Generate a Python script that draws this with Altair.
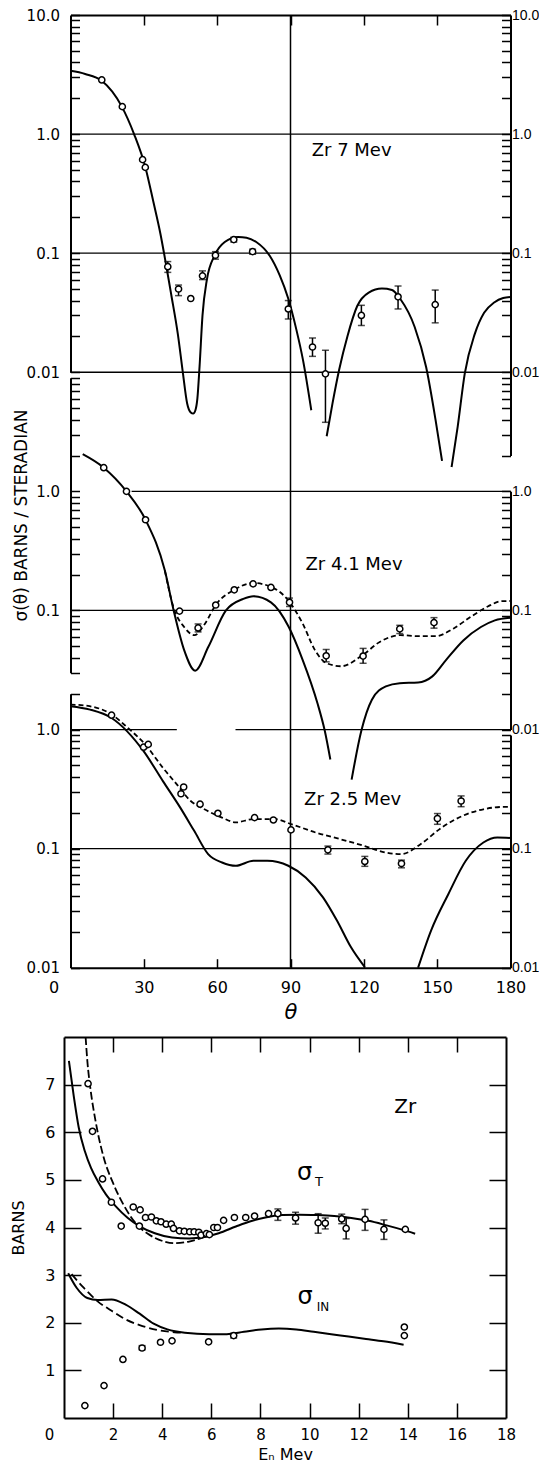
import math
import pandas as pd
import altair as alt

nan = float("nan")

# ---------------- data: Zr 7 MeV ----------------
z7_theta = [12.8, 21.2, 29.5, 30.6, 39.8, 44.2, 49.2, 54.0, 59.3, 66.8, 74.5, 89.1, 99.0, 104.3, 119.0, 134.0, 149.2]
z7_sigma = [2.85, 1.7, 0.61, 0.525, 0.077, 0.050, 0.0416, 0.0645, 0.096, 0.13, 0.103, 0.034, 0.0163, 0.0097, 0.030, 0.043, 0.037]
z7_lo = [nan, nan, nan, nan, 0.069, 0.044, nan, 0.060, 0.089, 0.124, 0.098, 0.028, 0.0136, 0.0038, 0.0247, 0.034, 0.026]
z7_hi = [nan, nan, nan, nan, 0.085, 0.054, nan, 0.071, 0.103, 0.136, 0.108, 0.040, 0.0194, 0.0153, 0.0365, 0.053, 0.049]
z7_fit_theta = [0, 6, 12.8, 21, 26, 30.6, 33.9, 36.8, 39.1, 41.2, 43.9, 46.0, 47.7, 49.2, 50.2, 51.1, 51.9, 52.8, 54.0, 55.8, 59, 63.1, 68.6, 72, 76, 81.5, 85.6, 89, 92.4, 95.1, 98.5,
                104.8, 107.2, 109.9, 113.3, 117.3, 122, 127.4, 131.5, 135, 140.8, 145.5, 149.5, 152,
                155.9, 158.4, 161.3, 165.4, 169.2, 173.3, 177, 180]
z7_fit_sigma = [3.4, 3.2, 2.8, 1.7, 1.0, 0.53, 0.27, 0.145, 0.08, 0.045, 0.021, 0.0098, 0.0055, 0.0046, 0.0045, 0.0048, 0.006, 0.0112, 0.03, 0.06, 0.096, 0.124, 0.137, 0.135, 0.124, 0.095, 0.065, 0.042, 0.0228, 0.0127, 0.0048,
                0.0029, 0.0055, 0.0105, 0.0201, 0.036, 0.0467, 0.0504, 0.049, 0.041, 0.024, 0.011, 0.0038, 0.0018,
                0.0016, 0.0035, 0.0098, 0.021, 0.0316, 0.0385, 0.042, 0.0428]
z7_fit_seg = [1] * 31 + [2] * 13 + [3] * 8

# ---------------- data: Zr 4.1 MeV ----------------
z41_theta = [13.6, 22.9, 30.7, 44.6, 52.2, 59.4, 67.0, 74.7, 82.0, 89.6, 104.6, 119.7, 134.7, 148.7]
z41_sigma = [1.58, 1.0, 0.577, 0.0987, 0.0713, 0.111, 0.149, 0.167, 0.156, 0.117, 0.0416, 0.0414, 0.070, 0.079]
z41_lo = [nan, nan, nan, nan, 0.066, nan, nan, nan, nan, 0.108, 0.037, 0.036, 0.064, 0.071]
z41_hi = [nan, nan, nan, nan, 0.077, nan, nan, nan, nan, 0.127, 0.047, 0.048, 0.075, 0.087]
z41_fit_theta = [5, 13.6, 22.9, 30.7, 38.6, 42.2, 46.5, 51, 56.4, 63.6, 70.7, 74.8, 82, 89.3, 95, 101, 104, 106.3,
                 115, 119, 123.3, 129, 134.7, 142.2, 147.9, 153.6, 160.7, 167.9, 173.6, 180]
z41_fit_sigma = [2.05, 1.58, 1.0, 0.577, 0.216, 0.1, 0.0464, 0.0312, 0.0495, 0.1, 0.125, 0.1316, 0.117, 0.0726, 0.0383, 0.0167, 0.0098, 0.0056,
                 0.0038, 0.0098, 0.0178, 0.023, 0.0245, 0.0248, 0.0278, 0.0383, 0.056, 0.0726, 0.0826, 0.087]
z41_fit_seg = [1] * 18 + [2] * 12
z41_dash_theta = [38.6, 42.2, 46.5, 50.7, 55, 59.4, 67, 74.7, 82, 89.3, 95, 100, 104.8, 110.7, 119.4, 126.5, 135, 142.2, 149.4, 156.6, 163.6, 170.7, 176.4, 180]
z41_dash_sigma = [0.216, 0.105, 0.0726, 0.062, 0.0774, 0.111, 0.149, 0.17, 0.158, 0.12, 0.0774, 0.0464, 0.036, 0.034, 0.042, 0.0544, 0.062, 0.0608, 0.0608, 0.0703, 0.088, 0.108, 0.1196, 0.12]

# ---------------- data: Zr 2.5 MeV ----------------
z25_theta = [16.8, 29.9, 31.8, 45.2, 46.3, 53.0, 60.3, 75.3, 83.0, 90.2, 105.3, 120.4, 135.4, 150.1, 159.8]
z25_sigma = [1.32, 0.711, 0.75, 0.289, 0.329, 0.236, 0.198, 0.182, 0.174, 0.1436, 0.0977, 0.078, 0.075, 0.179, 0.251]
z25_lo = [nan] * 10 + [0.09, 0.071, 0.069, 0.160, 0.225]
z25_hi = [nan] * 10 + [0.105, 0.086, 0.080, 0.197, 0.277]
z25_fit_theta = [0, 8, 16.8, 29.9, 37.8, 44.9, 50.6, 56.3, 62, 67.7, 74.8, 80.5, 89.1, 96.2, 103.3, 109, 114.7, 120.4,
                 142.2, 147.5, 154.6, 161.7, 168.9, 174.6, 180]
z25_fit_sigma = [1.57, 1.47, 1.25, 0.658, 0.369, 0.221, 0.141, 0.09, 0.0765, 0.0718, 0.079, 0.079, 0.0718, 0.0573, 0.039, 0.0249, 0.0149, 0.0101,
                 0.01, 0.0205, 0.0416, 0.079, 0.1125, 0.124, 0.123]
z25_fit_seg = [1] * 18 + [2] * 7
z25_dash_theta = [0, 7.8, 16.8, 23.5, 30.6, 37.8, 43.5, 49.2, 54.8, 62, 67.7, 74.8, 83.4, 90.5, 100.5, 110.4, 120.4, 129, 135.4, 143.2, 151.8, 160.3, 168.9, 177.4, 180]
z25_dash_sigma = [1.62, 1.57, 1.34, 1.03, 0.748, 0.477, 0.346, 0.251, 0.214, 0.182, 0.166, 0.177, 0.177, 0.16, 0.136, 0.12, 0.105, 0.0927, 0.09, 0.109, 0.15, 0.188, 0.214, 0.224, 0.224]

# reference lines of the angular panels
grid_panel = [1, 1, 1, 2, 2, 3, 3, 3]
grid_value = [1.0, 0.1, 0.01, 1.0, 0.1, 1.0, 1.0, 0.1]
grid_from = [0, 0, 0, 25, 0, 0, 67.5, 0]
grid_to = [180, 180, 180, 180, 180, 43.5, 180, 180]

panel_label = ["Zr 7 Mev", "Zr 4.1 Mev", "Zr 2.5 Mev"]
panel_label_theta = [115.0, 116.0, 115.4]
panel_label_sigma = [0.72, 0.239, 0.255]

# ---------------- data: total / inelastic cross sections ----------------
sT_E = [0.98, 1.16, 1.57, 1.93, 2.33, 2.82, 3.1, 3.07, 3.32, 3.56, 3.76, 3.95, 4.16, 4.37, 4.46, 4.7, 4.9, 5.12, 5.3, 5.49,
        5.58, 5.8, 5.92, 6.1, 6.25, 6.5, 6.94, 7.4, 7.76, 8.33, 8.71, 9.43, 10.35, 10.64, 11.31, 11.49, 12.26, 13.03, 13.9]
sT_B = [7.02, 6.02, 5.02, 4.53, 4.03, 4.43, 4.37, 4.03, 4.21, 4.22, 4.14, 4.12, 4.07, 4.07, 3.98, 3.93, 3.92, 3.91, 3.91, 3.9,
        3.84, 3.87, 3.85, 4.0, 4.0, 4.15, 4.21, 4.21, 4.24, 4.29, 4.29, 4.2, 4.1, 4.09, 4.18, 3.98, 4.17, 3.96, 3.96]
sT_err_E = [8.71, 9.43, 10.35, 10.64, 11.31, 11.49, 12.26, 13.03]
sT_err_lo = [4.15, 4.07, 3.88, 3.97, 4.08, 3.76, 3.94, 3.75]
sT_err_hi = [4.39, 4.32, 4.29, 4.20, 4.28, 4.19, 4.38, 4.16]
sT_fit_E = [0.2, 0.4, 0.6, 0.85, 1.1, 1.4, 1.7, 2.1, 2.6, 3.1, 3.7, 4.4, 5.1, 5.7, 6.3, 7.0, 7.6, 8.2, 8.9, 9.6, 10.3, 11.0, 11.7, 12.4, 13.1, 13.8, 14.3]
sT_fit_B = [7.5, 6.75, 6.1, 5.6, 5.25, 4.95, 4.7, 4.45, 4.2, 4.02, 3.88, 3.79, 3.77, 3.8, 3.88, 4.02, 4.13, 4.21, 4.26, 4.27, 4.26, 4.24, 4.2, 4.14, 4.05, 3.95, 3.87]
sT_dash_E = [0.88, 0.95, 1.08, 1.28, 1.6, 2.0, 2.42, 2.95, 3.5, 4.05, 4.5, 5.05, 5.6, 6.0]
sT_dash_B = [8.0, 7.5, 6.9, 6.25, 5.5, 4.93, 4.48, 4.07, 3.84, 3.71, 3.67, 3.7, 3.78, 3.85]

sIN_E = [0.85, 1.63, 2.4, 3.18, 3.93, 4.4, 5.89, 6.91, 13.86, 13.86]
sIN_B = [0.26, 0.68, 1.23, 1.47, 1.59, 1.62, 1.6, 1.73, 1.91, 1.73]
sIN_err_E = [3.18, 6.91]
sIN_err_lo = [1.43, 1.68]
sIN_err_hi = [1.52, 1.78]
sIN_fit_E = [0.17, 0.52, 0.95, 1.37, 1.94, 2.51, 3.08, 3.65, 4.21, 4.92, 5.91, 6.63, 7.33, 8.04, 8.75, 9.46, 10.17, 10.88, 11.59, 12.3, 13.01, 13.83]
sIN_fit_B = [3.04, 2.73, 2.52, 2.48, 2.49, 2.38, 2.19, 1.98, 1.86, 1.79, 1.76, 1.76, 1.81, 1.86, 1.88, 1.86, 1.81, 1.76, 1.71, 1.66, 1.61, 1.54]
sIN_dash_E = [0.31, 0.81, 1.37, 1.94, 2.51, 3.08, 3.79, 4.5, 4.86]
sIN_dash_B = [3.02, 2.73, 2.45, 2.25, 2.07, 1.95, 1.85, 1.8, 1.79]

bot_text = ["Zr", "σ", "T", "σ", "IN"]
bot_text_E = [13.9, 9.8, 10.38, 9.82, 10.55]
bot_text_B = [6.52, 5.15, 4.95, 2.55, 2.34]
bot_text_size = [20, 24, 13, 24, 12]

# ---------------- geometry ----------------
FONT = "DejaVu Sans"
W, H = 442, 1403
TL, TR = 6.5, 446.5          # x-extent of the angular figure inside the group
YB = 952.7                   # bottom of angular figure
D = YB / 8.0                 # pixels per decade
OFF = {1: 0.0, 2: 3.0, 3: 5.0}
BOT_TOP = 1022.0             # 8 barns

def yg(k, v):
    return D * (1.0 - math.log10(v) + OFF[k])

def sx_top():
    return alt.Scale(domain=[0, 180], range=[TL, TR], nice=False, zero=False)

def sy_top(k, lo=0.01, hi=10.0):
    return alt.Scale(type="log", domain=[lo, hi], range=[yg(k, lo), yg(k, hi)], nice=False)

def sx_bot():
    return alt.Scale(domain=[0, 18], range=[0, W], nice=False, zero=False)

def sy_bot():
    return alt.Scale(domain=[0, 8], range=[H, BOT_TOP], nice=False, zero=False)

def xT(f):
    return alt.X(f"{f}:Q", scale=sx_top(), axis=None)

def yT(f, k):
    return alt.Y(f"{f}:Q", scale=sy_top(k), axis=None)

def xB(f):
    return alt.X(f"{f}:Q", scale=sx_bot(), axis=None)

def yB(f):
    return alt.Y(f"{f}:Q", scale=sy_bot(), axis=None)

layers = []

# ---- angular panels ----
grid_df = pd.DataFrame({"panel": grid_panel, "v": grid_value, "t0": grid_from, "t1": grid_to})
for k in (1, 2, 3):
    layers.append(alt.Chart(grid_df[grid_df.panel == k]).mark_rule(color="black", strokeWidth=1.3).encode(
        x=xT("t0"), x2="t1", y=yT("v", k)))

vline = pd.DataFrame({"t": [90], "a": [10.0], "b": [1e-7]})
layers.append(alt.Chart(vline).mark_rule(color="black", strokeWidth=1.5).encode(
    x=xT("t"),
    y=alt.Y("a:Q", scale=alt.Scale(type="log", domain=[1e-7, 10], range=[yg(1, 1e-7), 0], nice=False), axis=None),
    y2="b"))

panels = [
    (1, z7_theta, z7_sigma, z7_lo, z7_hi, z7_fit_theta, z7_fit_sigma, z7_fit_seg, None, None),
    (2, z41_theta, z41_sigma, z41_lo, z41_hi, z41_fit_theta, z41_fit_sigma, z41_fit_seg, z41_dash_theta, z41_dash_sigma),
    (3, z25_theta, z25_sigma, z25_lo, z25_hi, z25_fit_theta, z25_fit_sigma, z25_fit_seg, z25_dash_theta, z25_dash_sigma),
]
for k, th, sg, lo, hi, fth, fsg, fseg, dth, dsg in panels:
    fit = pd.DataFrame({"t": fth, "v": fsg, "seg": fseg})
    layers.append(alt.Chart(fit).mark_line(color="black", strokeWidth=2, interpolate="monotone").encode(
        x=xT("t"), y=yT("v", k), detail="seg:N"))
    if dth is not None:
        dd = pd.DataFrame({"t": dth, "v": dsg})
        layers.append(alt.Chart(dd).mark_line(color="black", strokeWidth=1.8, strokeDash=[5, 3], interpolate="monotone").encode(
            x=xT("t"), y=yT("v", k)))
    pts = pd.DataFrame({"t": th, "v": sg, "lo": lo, "hi": hi})
    eb = pts.dropna()
    layers.append(alt.Chart(eb).mark_rule(color="black", strokeWidth=1.5).encode(x=xT("t"), y=yT("lo", k), y2="hi"))
    layers.append(alt.Chart(eb).mark_tick(color="black", orient="horizontal", size=7, thickness=1.5).encode(x=xT("t"), y=yT("lo", k)))
    layers.append(alt.Chart(eb).mark_tick(color="black", orient="horizontal", size=7, thickness=1.5).encode(x=xT("t"), y=yT("hi", k)))
    layers.append(alt.Chart(pts).mark_point(shape="circle", size=38, filled=True, fill="white", stroke="black",
                                            strokeWidth=1.5, opacity=1).encode(x=xT("t"), y=yT("v", k)))
    lab = pd.DataFrame({"t": [panel_label_theta[k - 1]], "v": [panel_label_sigma[k - 1]], "s": [panel_label[k - 1]]})
    layers.append(alt.Chart(lab).mark_text(font=FONT, fontSize=18, align="center", baseline="middle", color="black").encode(
        x=xT("t"), y=yT("v", k), text="s:N"))

# ---- cross-section figure ----
layers.append(alt.Chart(pd.DataFrame({"e": sT_fit_E, "b": sT_fit_B})).mark_line(color="black", strokeWidth=2, interpolate="monotone").encode(
    x=xB("e"), y=yB("b")))
layers.append(alt.Chart(pd.DataFrame({"e": sT_dash_E, "b": sT_dash_B})).mark_line(color="black", strokeWidth=1.8, strokeDash=[8, 3], interpolate="monotone").encode(
    x=xB("e"), y=yB("b")))
layers.append(alt.Chart(pd.DataFrame({"e": sIN_fit_E, "b": sIN_fit_B})).mark_line(color="black", strokeWidth=2, interpolate="monotone").encode(
    x=xB("e"), y=yB("b")))
layers.append(alt.Chart(pd.DataFrame({"e": sIN_dash_E, "b": sIN_dash_B})).mark_line(color="black", strokeWidth=1.8, strokeDash=[8, 4], interpolate="monotone").encode(
    x=xB("e"), y=yB("b")))
for eE, elo, ehi in ((sT_err_E, sT_err_lo, sT_err_hi), (sIN_err_E, sIN_err_lo, sIN_err_hi)):
    ed = pd.DataFrame({"e": eE, "lo": elo, "hi": ehi})
    layers.append(alt.Chart(ed).mark_rule(color="black", strokeWidth=1.5).encode(x=xB("e"), y=yB("lo"), y2="hi"))
    layers.append(alt.Chart(ed).mark_tick(color="black", orient="horizontal", size=7, thickness=1.5).encode(x=xB("e"), y=yB("lo")))
    layers.append(alt.Chart(ed).mark_tick(color="black", orient="horizontal", size=7, thickness=1.5).encode(x=xB("e"), y=yB("hi")))
for eE, eB in ((sT_E, sT_B), (sIN_E, sIN_B)):
    layers.append(alt.Chart(pd.DataFrame({"e": eE, "b": eB})).mark_point(shape="circle", size=38, filled=True, fill="white",
                                                                       stroke="black", strokeWidth=1.5, opacity=1).encode(
        x=xB("e"), y=yB("b")))
layers.append(alt.Chart(pd.DataFrame({"e": bot_text_E, "b": bot_text_B, "s": bot_text, "fs": bot_text_size})).mark_text(
    font=FONT, align="center", baseline="middle", color="black").encode(
    x=xB("e"), y=yB("b"), text="s:N", size=alt.Size("fs:Q", scale=None, legend=None)))

# ---- axes (carried by invisible marks) ----
carrier_y = pd.DataFrame({"v": [1.0]})
carrier_x = pd.DataFrame({"t": [1.0]})

def y_axis(scale, axis):
    return alt.Chart(carrier_y).mark_point(opacity=0).encode(y=alt.Y("v:Q", scale=scale, axis=axis))

def x_axis(scale, axis):
    return alt.Chart(carrier_x).mark_point(opacity=0).encode(x=alt.X("t:Q", scale=scale, axis=axis))

def log_values(lo, hi):
    out = []
    for e in range(-4, 2):
        for m in range(1, 10):
            v = float(f"{m}e{e}")
            if lo * 0.999 <= v <= hi * 1.001:
                out.append(v)
    return out

LOGEXPR = "datum.value > 5 ? '10.0' : datum.value > 0.5 ? '1.0' : datum.value > 0.05 ? '0.1' : '0.01'"

def lab_axis(orient, offset, values, expr, pad, size, **kw):
    return alt.Axis(orient=orient, offset=offset, values=values, labelExpr=expr, ticks=False, tickSize=0,
                    domain=False, labelPadding=pad, labelFontSize=size, labelFlush=False, labelOverlap=False,
                    grid=False, **kw)

def tick_axis(orient, offset, values, size):
    return alt.Axis(orient=orient, offset=offset, values=values, labels=False, ticks=True, tickSize=size,
                    tickWidth=1.5, domain=True, domainWidth=2, grid=False, title=None)

panel_axes = [
    # k, left domain, left labels, right domain, right labels
    (1, (0.01, 10.0), [10.0, 1.0, 0.1, 0.01], (0.002, 10.0), [10.0, 1.0, 0.1, 0.01]),
    (2, (0.03, 9.0), [1.0, 0.1], (0.01, 1.0), [1.0, 0.1, 0.01]),
    (3, (0.01, 2.0), [1.0, 0.1, 0.01], (0.01, 0.9), [0.1, 0.01]),
]
for k, ldom, llab, rdom, rlab in panel_axes:
    if k == 2:
        left_lab = lab_axis("left", -TL, llab, LOGEXPR, 11, 15, title="σ(θ)  BARNS / STERADIAN",
                            titleFontSize=17, titlePadding=5, titleY=500)
    else:
        left_lab = lab_axis("left", -TL, llab, LOGEXPR, 11, 15, title=None)
    layers.append(y_axis(sy_top(k, *ldom), left_lab))
    layers.append(y_axis(sy_top(k, *ldom), tick_axis("right", TL - W, log_values(*ldom), 9)))
    layers.append(y_axis(sy_top(k, *rdom), lab_axis("right", TR - W, rlab, LOGEXPR, 1, 14,
                                                    labelFont="Liberation Sans", title=None)))
    layers.append(y_axis(sy_top(k, *rdom), tick_axis("left", -TR, log_values(*rdom), 9)))

# angular figure x axes
layers.append(x_axis(sx_top(), lab_axis("bottom", YB - H, [30, 60, 90, 120, 150, 180], "datum.label", 12, 16,
                                        title="θ", titleFontSize=21, titleFontStyle="italic", titlePadding=6)))
layers.append(x_axis(sx_top(), lab_axis("bottom", YB - H, [0], "datum.label", 12, 16, labelOffset=-17, title=None)))
layers.append(x_axis(sx_top(), tick_axis("top", -YB, [30, 60, 90, 120, 150], 9)))
layers.append(x_axis(sx_top(), tick_axis("bottom", -H, [30, 60, 90, 120, 150], 10)))

# cross-section figure axes
layers.append(x_axis(sx_bot(), lab_axis("bottom", 0, list(range(2, 19, 2)), "datum.label", 9, 15,
                                        title="E\u2099  Mev", titleFontSize=16, titlePadding=4)))
layers.append(x_axis(sx_bot(), lab_axis("bottom", 0, [0], "datum.label", 9, 15, labelOffset=-15, title=None)))
layers.append(x_axis(sx_bot(), tick_axis("top", -H, list(range(2, 17, 2)), 15)))
layers.append(x_axis(sx_bot(), tick_axis("bottom", BOT_TOP - H, list(range(2, 17, 2)), 15)))
layers.append(y_axis(sy_bot(), lab_axis("left", 0, list(range(1, 8)), "datum.label", 9, 16,
                                        title="BARNS", titleFontSize=16, titlePadding=18)))
layers.append(y_axis(sy_bot(), tick_axis("right", -W, list(range(1, 8)), 17)))
layers.append(y_axis(sy_bot(), tick_axis("left", -W, list(range(1, 8)), 17)))

chart = alt.layer(*layers).resolve_scale(x="independent", y="independent").properties(
    width=W, height=H,
    padding={"left": 56, "top": 7, "right": 33, "bottom": 49},
    autosize=alt.AutoSizeParams(type="none"),
    background="white",
).configure_view(stroke=None).configure_axis(
    labelFont=FONT, titleFont=FONT, titleFontWeight="normal", labelColor="black", titleColor="black",
    domainColor="black", tickColor="black", grid=False,
)

chart.save("out.html", embed_options={"renderer": "svg", "actions": False})
